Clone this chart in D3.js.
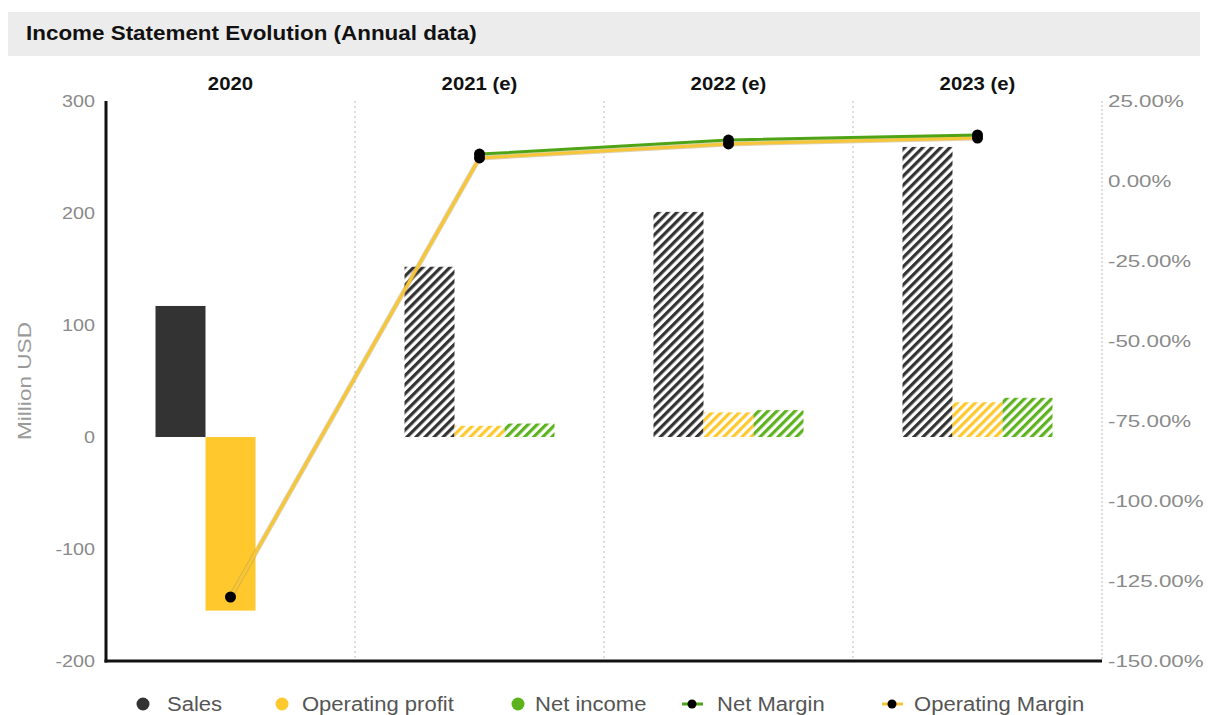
<!DOCTYPE html>
<html>
<head>
<meta charset="utf-8">
<script src="https://cdn.jsdelivr.net/npm/d3@7"></script>
<style>
  html, body { margin: 0; padding: 0; background: #fff; }
  svg { display: block; font-family: "Liberation Sans", Arial, sans-serif; }
</style>
</head>
<body>
<svg id="chart" width="1209" height="715"></svg>
<script>
// Annual data, million USD (2021-2023 are estimates)
const years = ["2020", "2021 (e)", "2022 (e)", "2023 (e)"];
const estimated = [false, true, true, true];
const sales = [117, 152, 201, 259];
const operatingProfit = [-155, 10, 22, 31];
const netIncome = [null, 12, 24, 35];
// Margins in percent
const netMargin = [null, 8.4, 12.8, 14.4];
const operatingMargin = [-130, 7.2, 11.6, 13.4];

const leftTicks = [-200, -100, 0, 100, 200, 300];
const rightTicks = [-150, -125, -100, -75, -50, -25, 0, 25];

const seriesNames = ["Sales", "Operating profit", "Net income"];
const seriesValues = [sales, operatingProfit, netIncome];
const colors = { "Sales": "#333333", "Operating profit": "#ffc82c", "Net income": "#5db31d" };
const marginColors = { net: "#4fa416", op: "#f6c636" };

const FONT = "'Liberation Sans', Arial, sans-serif";
const svg = d3.select("#chart");
const plot = { left: 106, right: 1102, top: 101, bottom: 661 };

// Widen text horizontally around its anchor x
function stretchX(sel, k) {
  sel.each(function () {
    const t = d3.select(this);
    const x0 = +t.attr("x") || 0;
    const prev = t.attr("transform") || "";
    t.attr("transform", `${prev} translate(${x0},0) scale(${k},1) translate(${-x0},0)`);
  });
}

// Title band
svg.append("rect").attr("x", 8).attr("y", 12).attr("width", 1192).attr("height", 44).attr("fill", "#ececec");
svg.append("text").attr("x", 26).attr("y", 40).attr("font-size", 19.5).attr("font-weight", "bold")
  .attr("fill", "#111").text("Income Statement Evolution (Annual data)")
  .call(stretchX, 1.15);

// Scales
const x = d3.scaleBand().domain(years).range([plot.left, plot.right]).padding(0);
const xSub = d3.scaleBand().domain(seriesNames).range([0, x.bandwidth()]).paddingInner(0).paddingOuter(0.99);
const y = d3.scaleLinear().domain([-200, 300]).range([plot.bottom, plot.top]);
const y2 = d3.scaleLinear().domain([-150, 25]).range([plot.bottom, plot.top]);

// Hatch patterns for estimated years
const defs = svg.append("defs");
seriesNames.forEach((s, i) => {
  const p = defs.append("pattern").attr("id", "hatch" + i)
    .attr("patternUnits", "userSpaceOnUse").attr("width", 6.4).attr("height", 6.4)
    .attr("patternTransform", "rotate(45)");
  p.append("rect").attr("width", 6.4).attr("height", 6.4).attr("fill", "#fff");
  p.append("line").attr("x1", 1.6).attr("y1", 0).attr("x2", 1.6).attr("y2", 6.4)
    .attr("stroke", colors[s]).attr("stroke-width", 3.2);
});

// Dotted year separators and right-hand axis line
years.slice(1).forEach(yr => {
  svg.append("line").attr("x1", x(yr)).attr("x2", x(yr)).attr("y1", plot.top).attr("y2", plot.bottom)
    .attr("stroke", "#bbb").attr("stroke-width", 1).attr("stroke-dasharray", "2,3");
});
svg.append("line").attr("x1", plot.right).attr("x2", plot.right).attr("y1", plot.top).attr("y2", plot.bottom)
  .attr("stroke", "#bbb").attr("stroke-width", 1).attr("stroke-dasharray", "2,2");

// Year labels on top
svg.append("g").selectAll("text").data(years).join("text")
  .attr("x", d => x(d) + x.bandwidth() / 2).attr("y", 90)
  .attr("text-anchor", "middle").attr("font-size", 18.5).attr("font-weight", "bold").attr("fill", "#111")
  .text(d => d)
  .call(stretchX, 1.1);

// Bars
const barData = [];
years.forEach((yr, yi) => {
  seriesNames.forEach((s, si) => {
    const v = seriesValues[si][yi];
    if (v !== null) barData.push({ yr, yi, s, si, v });
  });
});
svg.append("g").selectAll("rect").data(barData).join("rect")
  .attr("x", d => x(d.yr) + xSub(d.s))
  .attr("width", xSub.bandwidth())
  .attr("y", d => y(Math.max(0, d.v)))
  .attr("height", d => Math.abs(y(d.v) - y(0)))
  .attr("fill", d => estimated[d.yi] ? `url(#hatch${d.si})` : colors[d.s]);

// Left axis
const leftAxis = svg.append("g").attr("transform", `translate(${plot.left},0)`)
  .call(d3.axisLeft(y).tickValues(leftTicks).tickSize(0).tickPadding(11).tickFormat(d => String(d)));
leftAxis.select(".domain").remove();
leftAxis.selectAll("text").attr("font-size", 17).attr("fill", "#8a8a8a").attr("font-family", FONT)
  .call(stretchX, 1.16);

// Right axis
const rightAxis = svg.append("g").attr("transform", `translate(${plot.right},0)`)
  .call(d3.axisRight(y2).tickValues(rightTicks).tickSize(0).tickPadding(6).tickFormat(d => d.toFixed(2) + "%"));
rightAxis.select(".domain").remove();
rightAxis.selectAll("text").attr("font-size", 17.2).attr("fill", "#8a8a8a").attr("font-family", FONT)
  .call(stretchX, 1.3);

// Axis lines
svg.append("line").attr("x1", plot.left).attr("x2", plot.left).attr("y1", plot.top).attr("y2", plot.bottom + 1.5)
  .attr("stroke", "#111").attr("stroke-width", 3);
svg.append("line").attr("x1", plot.left - 1.5).attr("x2", plot.right).attr("y1", plot.bottom).attr("y2", plot.bottom)
  .attr("stroke", "#111").attr("stroke-width", 3);

// Left axis title
svg.append("text").attr("transform", `translate(31,381) rotate(-90)`)
  .attr("text-anchor", "middle").attr("font-size", 18).attr("fill", "#9a9a9a")
  .attr("textLength", 118).attr("lengthAdjust", "spacingAndGlyphs").text("Million USD");

// Margin lines
const cx = i => x(years[i]) + x.bandwidth() / 2;
const line = d3.line().defined(d => d.v !== null).x(d => cx(d.i)).y(d => y2(d.v));
const opPts = operatingMargin.map((v, i) => ({ v, i }));
const netPts = netMargin.map((v, i) => ({ v, i }));

svg.append("path").datum(opPts).attr("d", line).attr("fill", "none")
  .attr("stroke", "#b89a50").attr("stroke-opacity", 0.45).attr("stroke-width", 5).attr("stroke-linejoin", "round");
svg.append("path").datum(opPts).attr("d", line).attr("fill", "none")
  .attr("stroke", marginColors.op).attr("stroke-width", 3).attr("stroke-linejoin", "round");
svg.append("path").datum(netPts).attr("d", line).attr("fill", "none")
  .attr("stroke", marginColors.net).attr("stroke-width", 3).attr("stroke-linejoin", "round");

const dots = opPts.concat(netPts).filter(d => d.v !== null);
svg.append("g").selectAll("circle").data(dots).join("circle")
  .attr("cx", d => cx(d.i)).attr("cy", d => y2(d.v)).attr("r", 5.5).attr("fill", "#000");

// Legend
const legend = svg.append("g").attr("font-size", 19.5).attr("fill", "#555");
const legendItems = [
  { label: "Sales", type: "dot", color: colors["Sales"], x: 143, tx: 167 },
  { label: "Operating profit", type: "dot", color: colors["Operating profit"], x: 282, tx: 302 },
  { label: "Net income", type: "dot", color: colors["Net income"], x: 518, tx: 535 },
  { label: "Net Margin", type: "line", color: marginColors.net, x: 692, tx: 717 },
  { label: "Operating Margin", type: "line", color: marginColors.op, x: 892, tx: 914 }
];
legendItems.forEach(it => {
  const g = legend.append("g");
  if (it.type === "dot") {
    g.append("circle").attr("cx", it.x).attr("cy", 704).attr("r", 6.5).attr("fill", it.color);
  } else {
    g.append("line").attr("x1", it.x - 10).attr("x2", it.x + 11).attr("y1", 704).attr("y2", 704)
      .attr("stroke", it.color).attr("stroke-width", 3);
    g.append("circle").attr("cx", it.x).attr("cy", 704).attr("r", 4.5).attr("fill", "#000");
  }
  g.append("text").attr("x", it.tx).attr("y", 711).text(it.label).call(stretchX, 1.13);
});
</script>
</body>
</html>
